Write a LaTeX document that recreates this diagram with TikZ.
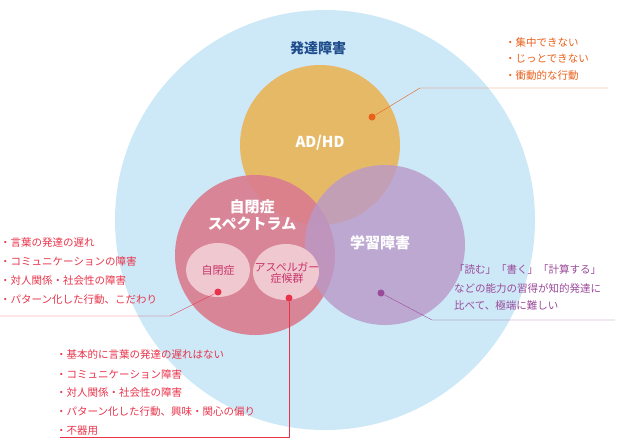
\documentclass[tikz,border=0pt]{standalone}
\usepackage{fontspec}
\setmainfont{Noto Sans CJK JP}
\begin{document}
\begin{tikzpicture}[x=1pt,y=-1pt,
 lst/.style={anchor=west,font=\fontsize{10.5}{12}\selectfont,inner sep=0pt},
 dot/.style={circle,inner sep=0pt,minimum size=7pt},
 big/.style={font=\fontsize{15}{17}\selectfont\bfseries,text=white,align=center}]
\definecolor{sky}{HTML}{CDE8F6}
\definecolor{ora}{HTML}{E8B760}
\definecolor{pnk}{HTML}{D97D90}
\definecolor{pur}{HTML}{B999C8}
\definecolor{sml}{HTML}{F0C8D0}
\definecolor{red}{HTML}{E8334A}
\definecolor{mag}{HTML}{C8336A}
\definecolor{oline}{HTML}{E8601A}
\definecolor{pline}{HTML}{9A4A9A}
\definecolor{navy}{HTML}{1F4D8C}
\useasboundingbox (0,0) rectangle (620,440);
\fill[sky] (325,220) circle (210);
\fill[ora,opacity=.95] (320,145) circle (80);
\fill[pnk,opacity=.92] (255,255) circle (80);
\fill[pur,opacity=.8] (385,245) circle (80);
\fill[sml] (218,270) ellipse (32 and 27);
\fill[sml] (286,272) ellipse (33 and 28);
\node[font=\fontsize{14}{16}\selectfont\bfseries,text=navy] (t0) at (318,48) {発達障害};
\node[big] (t1) at (320,143) {AD/HD};
\node[big] (t2) at (252,215) {自閉症\\スペクトラム};
\node[big] (t3) at (380,243) {学習障害};
\node[font=\fontsize{11}{13}\selectfont,text=mag] (t4) at (218,270) {自閉症};
\node[font=\fontsize{11}{13}\selectfont,text=mag,align=center] (t5) at (287,273) {アスペルガー\\[-2pt]症候群};
\node[dot,fill=oline] (d1) at (372,117) {};
\node[dot,fill=red] (d2) at (218,292) {};
\node[dot,fill=red] (d3) at (289,298) {};
\node[dot,fill=pline] (d4) at (381,293) {};
\coordinate (o1) at (420,88); \coordinate (o2) at (608,88);
\coordinate (r1) at (170,316); \coordinate (r2) at (0,316);
\coordinate (s1) at (289,437); \coordinate (s2) at (60,437);
\coordinate (p1) at (432,320); \coordinate (p2) at (615,320);
\draw[oline] (d1) -- (o1) -- (o2);
\draw[red] (d2) -- (r1) -- (r2);
\draw[red] (d3) -- (s1) -- (s2);
\draw[pline] (d4) -- (p1) -- (p2);
\foreach \t [count=\i] in {・集中できない,・じっとできない,・衝動的な行動}
  \node[lst,text=oline] at (505,25+17*\i) {\t};
\foreach \t [count=\i] in {・言葉の発達の遅れ,・コミュニケーションの障害,・対人関係・社会性の障害,・パターン化した行動、こだわり}
  \node[lst,text=red] at (0,224+19*\i) {\t};
\foreach \t [count=\i] in {・基本的に言葉の発達の遅れはない,・コミュニケーション障害,・対人関係・社会性の障害,・パターン化した行動、興味・関心の偏り,・不器用}
  \node[lst,text=red] at (56,336+19*\i) {\t};
\foreach \t [count=\i] in {「読む」「書く」「計算する」,などの能力の習得が知的発達に,比べて、極端に難しい}
  \node[lst,text=pline] at (454,252+18*\i) {\t};
\end{tikzpicture}
\end{document}
